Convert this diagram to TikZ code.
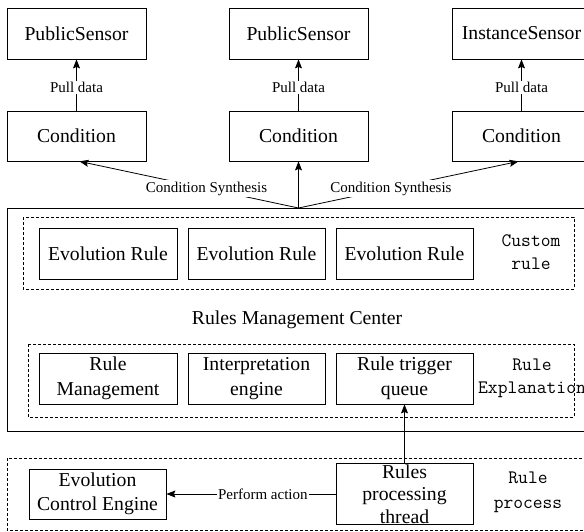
\documentclass[tikz,border=0pt]{standalone}
\usepackage{fontspec}
\setmainfont{Liberation Serif}
\usetikzlibrary{arrows.meta}

\tikzset{
  box/.style={draw, line width=0.8pt, inner sep=0pt, align=center,
    font=\fontsize{19.7}{24.5}\selectfont},
  dashbox/.style={draw, line width=0.7pt, dash pattern=on 3pt off 2pt},
  solidbox/.style={draw, line width=0.9pt},
  arr/.style={line width=0.8pt, -{Stealth[length=9pt,width=7pt,inset=1.5pt]}},
  conn/.style={line width=0.8pt},
  lab/.style={fill=white, inner sep=1.5pt, font=\fontsize{15}{17}\selectfont},
  mono/.style={align=center, inner sep=0pt, font=\ttfamily\fontsize{19}{23}\selectfont},
  big/.style={font=\fontsize{19.7}{24.5}\selectfont, inner sep=0pt}
}

\begin{document}
\begin{tikzpicture}[x=1pt, y=-1pt]
\useasboundingbox (0,0) rectangle (584,531);

% containers
\draw[solidbox] (7,208) rectangle (600,431);
\draw[dashbox] (23,217) rectangle (574,289);
\draw[dashbox] (28,344) rectangle (574,417);
\draw[dashbox] (7,458) rectangle (600,530);

% sensors
\node[box, minimum width=139pt, minimum height=51pt] (ps1) at (76.5,33.5) {PublicSensor};
\node[box, minimum width=139pt, minimum height=51pt] (ps2) at (298.5,33.5) {PublicSensor};
\node[box, minimum width=139pt, minimum height=51pt] (is3) at (521.5,33.5) {InstanceSensor};

% conditions
\node[box, minimum width=139pt, minimum height=50pt] (cond1) at (76.5,136) {Condition};
\node[box, minimum width=139pt, minimum height=50pt] (cond2) at (298.5,136) {Condition};
\node[box, minimum width=139pt, minimum height=50pt] (cond3) at (521.5,136) {Condition};

% custom rules
\node[box, minimum width=138pt, minimum height=51pt] (ev1) at (108,253.5) {Evolution Rule};
\node[box, minimum width=137pt, minimum height=51pt] (ev2) at (256.5,253.5) {Evolution Rule};
\node[box, minimum width=137pt, minimum height=51pt] (ev3) at (404.5,253.5) {Evolution Rule};
\node[mono] (customlbl) at (531,252) {Custom\\rule};

\node[big] (center) at (297,320) {Rules Management Center};

% rule explanation
\node[box, minimum width=138pt, minimum height=51pt] (rm) at (108,378.5) {Rule\\Management};
\node[box, minimum width=137pt, minimum height=51pt] (ie) at (256.5,378.5) {Interpretation\\engine};
\node[box, minimum width=137pt, minimum height=51pt] (rq) at (404.5,378.5) {Rule trigger\\queue};
\node[mono] (explbl) at (532,378.5) {Rule\\Explanation};

% rule process
\node[box, minimum width=137pt, minimum height=50pt] (ece) at (97.5,494) {Evolution\\Control Engine};
\node[box, minimum width=137pt, minimum height=61pt] (proc) at (404.5,494) {};
\node[align=center, inner sep=0pt, font=\fontsize{19.7}{22.5}\selectfont] (proctxt) at (proc.center) {Rules\\processing\\thread};
\node[mono, font=\ttfamily\fontsize{19}{25}\selectfont] (proclbl) at (528,492.5) {Rule\\process};

% connectors
\draw[arr] (cond1.north) -- node[lab, pos=0.45] {Pull data} (ps1.south);
\draw[arr] (cond2.north) -- node[lab, pos=0.45] {Pull data} (ps2.south);
\draw[arr] (cond3.north) -- node[lab, pos=0.45] {Pull data} (is3.south);

\coordinate (syn) at (298.5,208);
\draw[arr] (syn) -- node[lab, pos=0.42] {Condition Synthesis} ([xshift=3pt]cond1.south);
\draw[arr] (syn) -- (cond2.south);
\draw[arr] (syn) -- node[lab, pos=0.42] {Condition Synthesis} ([xshift=-3pt]cond3.south);

\draw[arr] (proc.north) -- (rq.south);
\draw[arr] (proc.west) -- node[lab, pos=0.43] {Perform action} (ece.east);
\end{tikzpicture}
\end{document}
